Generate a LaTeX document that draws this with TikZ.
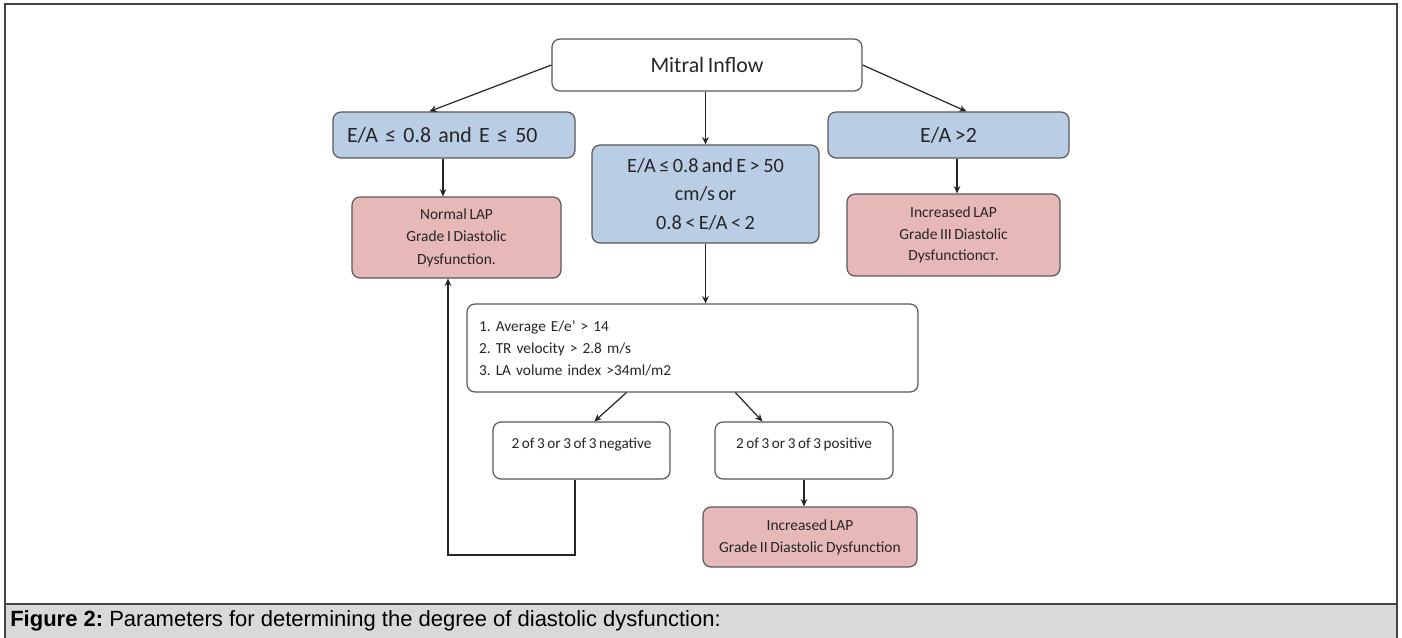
\documentclass[tikz,border=0pt]{standalone}
\usepackage{fontspec}
\setmainfont{Carlito}[WordSpace=0.75]
\newfontfamily\capfont{Liberation Sans}
\usetikzlibrary{arrows.meta,calc}
\definecolor{bluefill}{HTML}{B9CDE5}
\definecolor{pinkfill}{HTML}{E6B9B8}
\definecolor{boxline}{HTML}{595959}
\definecolor{txt}{HTML}{262626}
\definecolor{capgray}{HTML}{D9D9D9}
\definecolor{framecol}{HTML}{444444}
\frenchspacing
\begin{document}
\begin{tikzpicture}[x=0.75pt,y=-0.75pt,
 box/.style={draw=boxline,line width=0.9pt,rounded corners=6pt,text=txt,inner sep=0pt},
 bluebox/.style={box,fill=bluefill},
 pinkbox/.style={box,fill=pinkfill},
 whitebox/.style={box,fill=white},
 arr/.style={draw=txt,line width=0.9pt,-{Stealth[length=5.5pt,width=5pt]}},
 bigfont/.style={font=\fontsize{16.4}{20}\selectfont},
]
\useasboundingbox (0,0) rectangle (1402,637);
% frame and caption band
\fill[white] (0,0) rectangle (1402,637);
\fill[capgray] (5,604) rectangle (1397,640);
\draw[framecol,line width=1.5pt] (5,645) -- (5,4) -- (1397,4) -- (1397,645);
\draw[framecol,line width=1.5pt] (5,604) -- (1397,604);
\node[anchor=west,inner sep=0pt,font=\capfont\fontsize{16.5}{20}\selectfont,text=black] (cap) at (10,621)
  {\textbf{Figure 2:} Parameters for determining the degree of diastolic dysfunction:};

% boxes
\node[whitebox,bigfont,minimum width=232.5pt,minimum height=39pt] (mitral) at (707,65) {Mitral Inflow};
\node[bluebox,bigfont,minimum width=181.5pt,minimum height=34.5pt,text width=160.5pt,align=left] (lblue) at (454,135) {E/A ≤ 0.8 and E ≤ 50};
\node[bluebox,font=\fontsize{15.2}{21.4}\selectfont,minimum width=170.25pt,minimum height=73.5pt,align=center] (cblue) at (705.5,194) {E/A ≤ 0.8 and E > 50\\cm/s or\\0.8 < E/A < 2};
\node[bluebox,bigfont,minimum width=180.75pt,minimum height=34.5pt] (rblue) at (948.5,135) {E/A >2};
\node[pinkbox,font=\fontsize{11.6}{16.9}\selectfont,minimum width=156.75pt,minimum height=60.75pt,align=center] (lpink) at (456.5,237.5) {Normal LAP\\Grade I Diastolic\\Dysfunction.};
\node[pinkbox,font=\fontsize{11.6}{16.1}\selectfont,minimum width=159.75pt,minimum height=61.5pt,align=center] (rpink) at (953.5,235) {Increased LAP\\Grade III Diastolic\\Dysfunctionст.};
\node[whitebox,font=\fontsize{11.5}{16.5}\selectfont,minimum width=338.25pt,minimum height=66pt,text width=320.25pt,align=left] (crit) at (692.5,348) {1. Average E/e’ > 14\\2. TR velocity > 2.8 m/s\\3. LA volume index >34ml/m2};
\node[whitebox,font=\fontsize{11.4}{16}\selectfont,minimum width=132.75pt,text height=19.5pt,text depth=23.25pt] (neg) at (581.5,450.5) {2 of 3 or 3 of 3 negative};
\node[whitebox,font=\fontsize{11.4}{16}\selectfont,minimum width=133.5pt,text height=19.5pt,text depth=23.25pt] (pos) at (804,450.5) {2 of 3 or 3 of 3 positive};
\node[pinkbox,font=\fontsize{11.6}{16.5}\selectfont,minimum width=160.5pt,minimum height=45pt,align=center] (bpink) at (810,537) {Increased LAP\\Grade II Diastolic Dysfunction};

% helper coordinates
\coordinate (lx) at (443,0);
\coordinate (rx) at (957,0);
\coordinate (fbx) at (575,0);
\coordinate (fb) at (448,555);

% connectors
\draw[arr] (mitral.west) -- ($(lblue.north west)+(97,0)$);
\draw[arr] (mitral.east) -- ($(rblue.north west)+(139,0)$);
\draw[arr] (cblue.north |- mitral.south) -- (cblue.north);
\draw[arr] (lblue.south -| lx) -- (lpink.north -| lx);
\draw[arr] (rblue.south -| rx) -- (rpink.north -| rx);
\draw[arr] (cblue.south) -- (cblue.south |- crit.north);
\draw[arr] ($(crit.south west)+(160,0)$) -- ($(neg.north west)+(102,0)$);
\draw[arr] ($(crit.south west)+(269,0)$) -- ($(pos.north west)+(48,0)$);
\draw[arr] (pos.south) -- (pos.south |- bpink.north);
\draw[arr] (neg.south -| fbx) |- (fb) -- (lpink.south -| fb);
\end{tikzpicture}
\end{document}
